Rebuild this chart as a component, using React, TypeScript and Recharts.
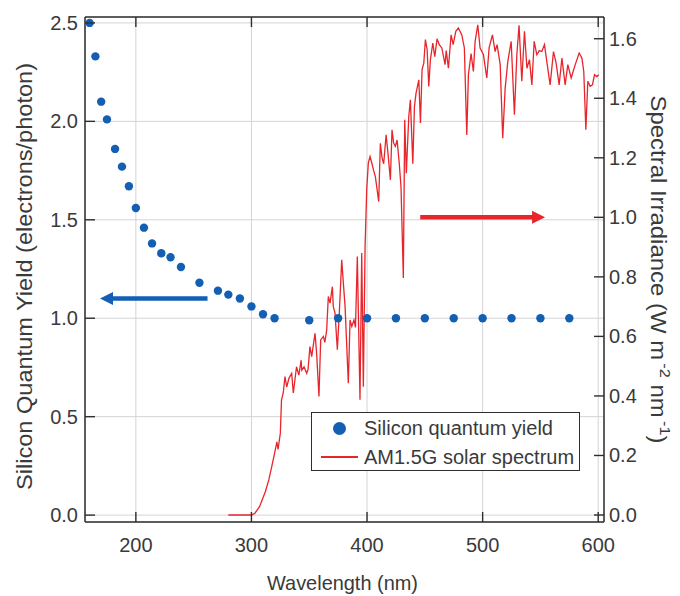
import React from 'react';
import {
  ComposedChart, Line, Scatter, XAxis, YAxis, CartesianGrid, ReferenceLine, Legend,
} from 'recharts';

// Silicon quantum yield (electrons/photon) vs wavelength (nm)
const qyNm = [160, 165, 170, 175, 182, 188, 194, 200, 207, 214, 222, 230, 239, 255, 271, 280, 290, 300, 310, 320, 350, 375, 400, 425, 450, 475, 500, 525, 550, 575];
const qyVal = [2.50, 2.33, 2.10, 2.01, 1.86, 1.77, 1.67, 1.56, 1.46, 1.38, 1.33, 1.31, 1.26, 1.18, 1.14, 1.12, 1.10, 1.06, 1.02, 1.00, 0.99, 1.00, 1.00, 1.00, 1.00, 1.00, 1.00, 1.00, 1.00, 1.00];

// AM1.5G solar spectrum (W m^-2 nm^-1)
const specNm = [280, 290, 300, 303, 307, 312, 315, 317.5, 320, 322, 323, 325, 326, 327.5, 329, 330.5, 332.5, 334.8, 336.2, 339, 341, 343, 343.5, 345.5, 347.8, 349, 350.6, 352.1, 355, 356.4, 358.4, 359.9, 362.2, 363.5, 365.1, 366.5, 368, 370, 370.8, 372.3, 374.3, 376, 378.1, 379.5, 381, 383.8, 385.3, 386.8, 388.7, 390, 391.6, 393.9, 395.4, 396.8, 398.3, 399.7, 401.1, 402.6, 404.3, 405.5, 407.2, 410.1, 411.5, 413, 414.4, 416.5, 418, 420.2, 421.6, 423, 424.5, 426, 427.9, 429.4, 431.4, 432.6, 434, 436.1, 437.5, 439.6, 441, 442.4, 444.8, 446.2, 447.6, 449.1, 450.5, 452, 453.4, 454.8, 456.9, 458.6, 460.6, 462.5, 464.7, 467.5, 468.5, 470.4, 472.7, 474.5, 476.8, 479, 482, 484.2, 486.3, 487.7, 490, 492, 493.5, 495.8, 497.8, 500.7, 503.6, 505.6, 508.5, 510.8, 512.5, 515.2, 517.4, 519.5, 521.8, 524.7, 527.5, 529.6, 531.5, 533.9, 536.2, 538.3, 540.5, 542.6, 544.6, 546.9, 549, 551.2, 553.5, 555.5, 558.4, 561.3, 563.5, 566.2, 568.6, 571.4, 573.7, 576.6, 580.1, 583.5, 585.9, 587.5, 589.3, 591, 593, 595, 596.8, 598.8, 600.5];
const specVal = [0, 0, 0, 0.006, 0.028, 0.078, 0.118, 0.162, 0.207, 0.246, 0.22, 0.275, 0.387, 0.41, 0.465, 0.43, 0.46, 0.476, 0.41, 0.498, 0.47, 0.52, 0.487, 0.498, 0.476, 0.49, 0.566, 0.532, 0.61, 0.543, 0.398, 0.588, 0.60, 0.58, 0.622, 0.734, 0.712, 0.767, 0.70, 0.678, 0.555, 0.678, 0.857, 0.779, 0.70, 0.443, 0.655, 0.633, 0.655, 0.63, 0.868, 0.387, 0.88, 0.431, 0.90, 1.092, 1.182, 1.204, 1.18, 1.16, 1.137, 1.053, 1.249, 1.20, 1.18, 1.277, 1.22, 1.126, 1.294, 1.25, 1.238, 1.26, 1.18, 1.10, 0.796, 1.328, 1.148, 1.339, 1.395, 1.18, 1.372, 1.417, 1.462, 1.317, 1.496, 1.518, 1.597, 1.563, 1.44, 1.529, 1.585, 1.54, 1.6, 1.58, 1.569, 1.513, 1.56, 1.501, 1.613, 1.58, 1.625, 1.636, 1.613, 1.569, 1.277, 1.479, 1.55, 1.49, 1.591, 1.647, 1.569, 1.546, 1.468, 1.569, 1.613, 1.557, 1.58, 1.513, 1.266, 1.434, 1.524, 1.591, 1.345, 1.546, 1.645, 1.457, 1.625, 1.501, 1.53, 1.445, 1.591, 1.546, 1.56, 1.557, 1.58, 1.524, 1.445, 1.557, 1.52, 1.445, 1.535, 1.445, 1.513, 1.468, 1.513, 1.552, 1.535, 1.49, 1.294, 1.457, 1.44, 1.445, 1.479, 1.473, 1.479];

const xTicks = [200, 300, 400, 500, 600];
const leftTicks = [0, 0.5, 1.0, 1.5, 2.0, 2.5];
const rightTicks = [0, 0.2, 0.4, 0.6, 0.8, 1.0, 1.2, 1.4, 1.6];
const seriesNames = ['Silicon quantum yield', 'AM1.5G solar spectrum'];

// arrow annotations: [startNm, tipNm, value]
const blueArrow = [262, 169, 1.1];
const redArrow = [446, 554, 1.0];

const qyData = qyNm.map((x, i) => ({ x, y: qyVal[i] }));
const specData = specNm.map((x, i) => ({ x, y: specVal[i] }));

const BLUE = '#135fb3';
const RED = '#e8252b';
const AXIS = '#2e2e2e';
const TEXT = '#3a3a3a';
const FONT = '"Liberation Sans", Arial, sans-serif';
const TICK_FS = 20;

const BottomTick = (p: any) => (
  <g>
    <line x1={p.x} x2={p.x} y1={p.y} y2={p.y - 10} stroke={AXIS} strokeWidth={1.4} />
    <text x={p.x} y={p.y + 30} textAnchor="middle" fontSize={TICK_FS} fill={TEXT} fontFamily={FONT}>
      {p.payload.value}
    </text>
  </g>
);
const TopTick = (p: any) => (
  <line x1={p.x} x2={p.x} y1={p.y} y2={p.y + 10} stroke={AXIS} strokeWidth={1.4} />
);
const LeftTick = (p: any) => (
  <g>
    <line x1={p.x} x2={p.x + 10} y1={p.y} y2={p.y} stroke={AXIS} strokeWidth={1.4} />
    <text x={p.x - 7} y={p.y + 7} textAnchor="end" fontSize={TICK_FS} fill={TEXT} fontFamily={FONT}>
      {Number(p.payload.value).toFixed(1)}
    </text>
  </g>
);
const RightTick = (p: any) => (
  <g>
    <line x1={p.x} x2={p.x - 10} y1={p.y} y2={p.y} stroke={AXIS} strokeWidth={1.4} />
    <text x={p.x + 5} y={p.y + 7} textAnchor="start" fontSize={TICK_FS} fill={TEXT} fontFamily={FONT}>
      {Number(p.payload.value).toFixed(1)}
    </text>
  </g>
);

const makeArrow = (color: string) => (p: any) => {
  const { x1, y1, x2, y2 } = p;
  if ([x1, y1, x2, y2].some((v) => typeof v !== 'number' || isNaN(v))) return <g />;
  const dx = x2 - x1;
  const dy = y2 - y1;
  const len = Math.sqrt(dx * dx + dy * dy) || 1;
  const ux = dx / len;
  const uy = dy / len;
  const hl = 13;
  const hw = 6.5;
  const bx = x2 - ux * hl;
  const by = y2 - uy * hl;
  const pts = `${x2},${y2} ${bx - uy * hw},${by + ux * hw} ${bx + uy * hw},${by - ux * hw}`;
  return (
    <g>
      <line x1={x1} y1={y1} x2={bx + ux * 1} y2={by + uy * 1} stroke={color} strokeWidth={4.5} />
      <polygon points={pts} fill={color} />
    </g>
  );
};

const LeftTitle = (p: any) => {
  const vb = p.viewBox || {};
  const cx = vb.x + 32;
  const cy = vb.y + vb.height / 2 + 7;
  return (
    <text transform={`translate(${cx},${cy}) rotate(-90)`} textAnchor="middle" fontSize={22} fill={TEXT}
      fontFamily={FONT} textLength={427} lengthAdjust="spacingAndGlyphs">
      Silicon Quantum Yield (electrons/photon)
    </text>
  );
};
const RightTitle = (p: any) => {
  const vb = p.viewBox || {};
  const cx = vb.x + 47;
  const cy = vb.y + vb.height / 2;
  return (
    <text transform={`translate(${cx},${cy}) rotate(90)`} textAnchor="middle" fontSize={22} fill={TEXT}
      fontFamily={FONT} textLength={348} lengthAdjust="spacingAndGlyphs">
      Spectral Irradiance (W m
      <tspan dx={3} dy={-9} fontSize={15}>-2</tspan>
      <tspan dy={9}> nm</tspan>
      <tspan dx={3} dy={-9} fontSize={15}>-1</tspan>
      <tspan dy={9}>)</tspan>
    </text>
  );
};
const BottomTitle = (p: any) => {
  const vb = p.viewBox || {};
  const cx = vb.x + vb.width / 2 - 2;
  const cy = vb.y + 68;
  return (
    <text x={cx} y={cy} textAnchor="middle" fontSize={21} fill={TEXT} fontFamily={FONT}
      textLength={151} lengthAdjust="spacingAndGlyphs">
      Wavelength (nm)
    </text>
  );
};

const LegendBox = () => (
  <div style={{
    width: 269, height: 59, boxSizing: 'border-box', border: `1.5px solid ${AXIS}`, background: '#fff',
    fontFamily: FONT, fontSize: 20, color: TEXT,
  }}>
    <div style={{ display: 'flex', alignItems: 'center', height: 29, marginTop: 1 }}>
      <div style={{ width: 46, display: 'flex', justifyContent: 'center', marginLeft: 4 }}>
        <div style={{ width: 13, height: 13, borderRadius: '50%', background: BLUE }} />
      </div>
      <span style={{ marginLeft: 2 }}>{seriesNames[0]}</span>
    </div>
    <div style={{ display: 'flex', alignItems: 'center', height: 28 }}>
      <div style={{ width: 46, display: 'flex', justifyContent: 'center', marginLeft: 4 }}>
        <div style={{ width: 37, height: 1.5, background: RED }} />
      </div>
      <span style={{ marginLeft: 2 }}>{seriesNames[1]}</span>
    </div>
  </div>
);

export default function App() {
  return (
    <div style={{ position: 'absolute', left: 0, top: 0, background: '#fff' }}>
      <ComposedChart width={680} height={596} margin={{ top: 0, right: 0, bottom: 0, left: 0 }}>
        <CartesianGrid xAxisId="bottom" yAxisId="left" stroke="#d4d4d4" strokeWidth={1}
          verticalPoints={undefined} />
        <XAxis xAxisId="bottom" type="number" dataKey="x" domain={[156, 605]} allowDataOverflow
          ticks={xTicks} interval={0} height={74} tickSize={0} tickMargin={0} tickLine={false}
          tick={<BottomTick />} axisLine={{ stroke: AXIS, strokeWidth: 1.5 }}
          label={{ content: (p: any) => <BottomTitle {...p} /> }} />
        <XAxis xAxisId="top" orientation="top" type="number" dataKey="x" domain={[156, 605]} allowDataOverflow
          ticks={xTicks} interval={0} height={17} tickSize={0} tickMargin={0} tickLine={false}
          tick={<TopTick />} axisLine={{ stroke: AXIS, strokeWidth: 1.5 }} />
        <YAxis yAxisId="left" type="number" dataKey="y" domain={[-0.035, 2.53]} allowDataOverflow
          ticks={leftTicks} interval={0} width={85} tickSize={0} tickMargin={0} tickLine={false}
          tick={<LeftTick />} axisLine={{ stroke: AXIS, strokeWidth: 1.5 }}
          label={{ content: (p: any) => <LeftTitle {...p} /> }} />
        <YAxis yAxisId="right" orientation="right" type="number" dataKey="y" domain={[-0.0235, 1.673]}
          allowDataOverflow ticks={rightTicks} interval={0} width={76} tickSize={0} tickMargin={0}
          tickLine={false} tick={<RightTick />} axisLine={{ stroke: AXIS, strokeWidth: 1.5 }}
          label={{ content: (p: any) => <RightTitle {...p} /> }} />
        <Line xAxisId="bottom" yAxisId="right" data={specData} dataKey="y" type="linear" stroke={RED}
          strokeWidth={1.3} dot={false} activeDot={false} isAnimationActive={false} name={seriesNames[1]} />
        <Scatter xAxisId="bottom" yAxisId="left" data={qyData} dataKey="y" fill={BLUE}
          isAnimationActive={false} name={seriesNames[0]}
          shape={(p: any) => <circle cx={p.cx} cy={p.cy} r={4.2} fill={BLUE} />} />
        <ReferenceLine xAxisId="bottom" yAxisId="left"
          segment={[{ x: blueArrow[0], y: blueArrow[2] }, { x: blueArrow[1], y: blueArrow[2] }]}
          stroke={BLUE} shape={makeArrow(BLUE)} />
        <ReferenceLine xAxisId="bottom" yAxisId="right"
          segment={[{ x: redArrow[0], y: redArrow[2] }, { x: redArrow[1], y: redArrow[2] }]}
          stroke={RED} shape={makeArrow(RED)} />
        <Legend layout="vertical" align="center" verticalAlign="middle"
          wrapperStyle={{ position: 'absolute', left: 311, top: 412, width: 269, height: 59 }}
          content={() => <LegendBox />} />
      </ComposedChart>
    </div>
  );
}
